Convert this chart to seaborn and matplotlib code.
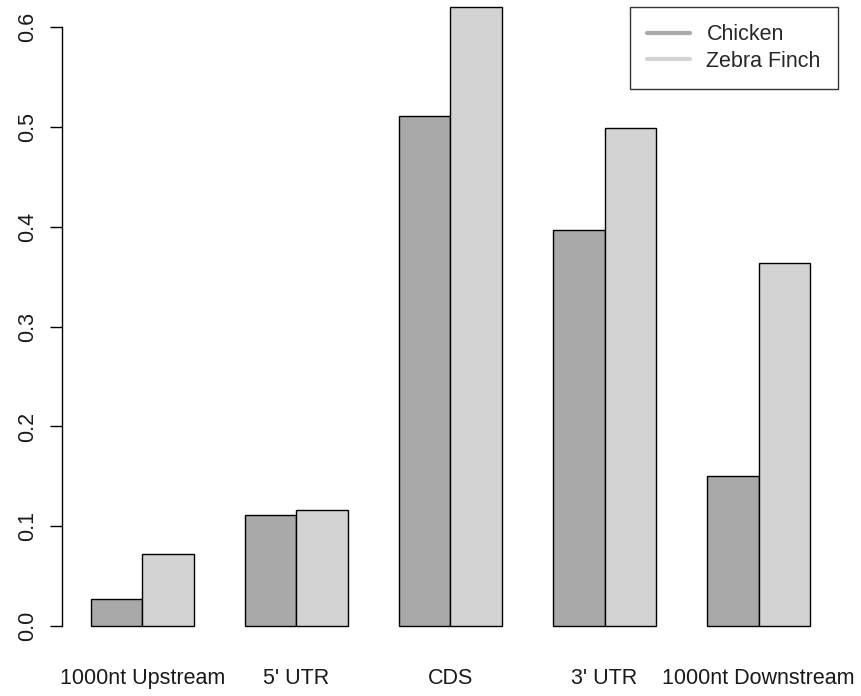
import pandas as pd
import matplotlib
matplotlib.use("Agg")
import matplotlib.pyplot as plt
from matplotlib.lines import Line2D
import seaborn as sns

# data
regions = ["1000nt Upstream", "5' UTR", "CDS", "3' UTR", "1000nt Downstream"]
species = ["Chicken", "Zebra Finch"]
chicken = [0.027, 0.111, 0.511, 0.397, 0.150]
zebra_finch = [0.072, 0.116, 0.620, 0.499, 0.364]
y_ticks = [0.0, 0.1, 0.2, 0.3, 0.4, 0.5, 0.6]
colors = ["#A9A9A9", "#D3D3D3"]

df = pd.DataFrame({
    "region": regions * 2,
    "species": [species[0]] * len(regions) + [species[1]] * len(regions),
    "value": chicken + zebra_finch,
})

sns.set_theme(style="white")
plt.rcParams["font.family"] = ["Liberation Sans", "DejaVu Sans"]

fig = plt.figure(figsize=(8.62, 6.96), dpi=100)
# axes box in pixels: x 62..839, y 0..651 (from top)
ax = fig.add_axes([62.2 / 862, 1 - 651 / 696, (838.8 - 62.2) / 862, 651 / 696])

sns.barplot(data=df, x="region", y="value", hue="species", order=regions,
            hue_order=species, palette=colors, width=2 / 3, saturation=1,
            edgecolor="black", linewidth=1.0, legend=False, ax=ax)

ax.set_xlim(-0.52, 4.52)
ax.set_ylim(-0.0248, 0.627)
ax.set_xlabel("")
ax.set_ylabel("")

for side in ["top", "right", "bottom"]:
    ax.spines[side].set_visible(False)
ax.spines["left"].set_bounds(0, 0.6)
ax.spines["left"].set_linewidth(1.0)
ax.spines["left"].set_color("black")

ax.set_yticks(y_ticks)
ax.set_yticklabels([f"{t:.1f}" for t in y_ticks], rotation=90, va="center")
ax.tick_params(axis="y", left=True, length=8.6, width=1.0, color="black",
               pad=9, labelsize=15.5, labelcolor="#1a1a1a")
ax.tick_params(axis="x", bottom=False, length=0, pad=12, labelsize=15.5,
               labelcolor="#1a1a1a")

handles = [Line2D([0], [0], color=c, lw=3) for c in colors]
leg = ax.legend(handles, species, loc="upper right",
                bbox_to_anchor=(838 / 862, 1 - 7 / 696),
                bbox_transform=fig.transFigure, fontsize=15.5,
                frameon=True, fancybox=False, edgecolor="black",
                handlelength=2.0, handletextpad=0.75, labelspacing=0.25,
                borderpad=0.8, borderaxespad=0)
leg.get_frame().set_linewidth(1.0)

fig.savefig("out.png", dpi=100)
